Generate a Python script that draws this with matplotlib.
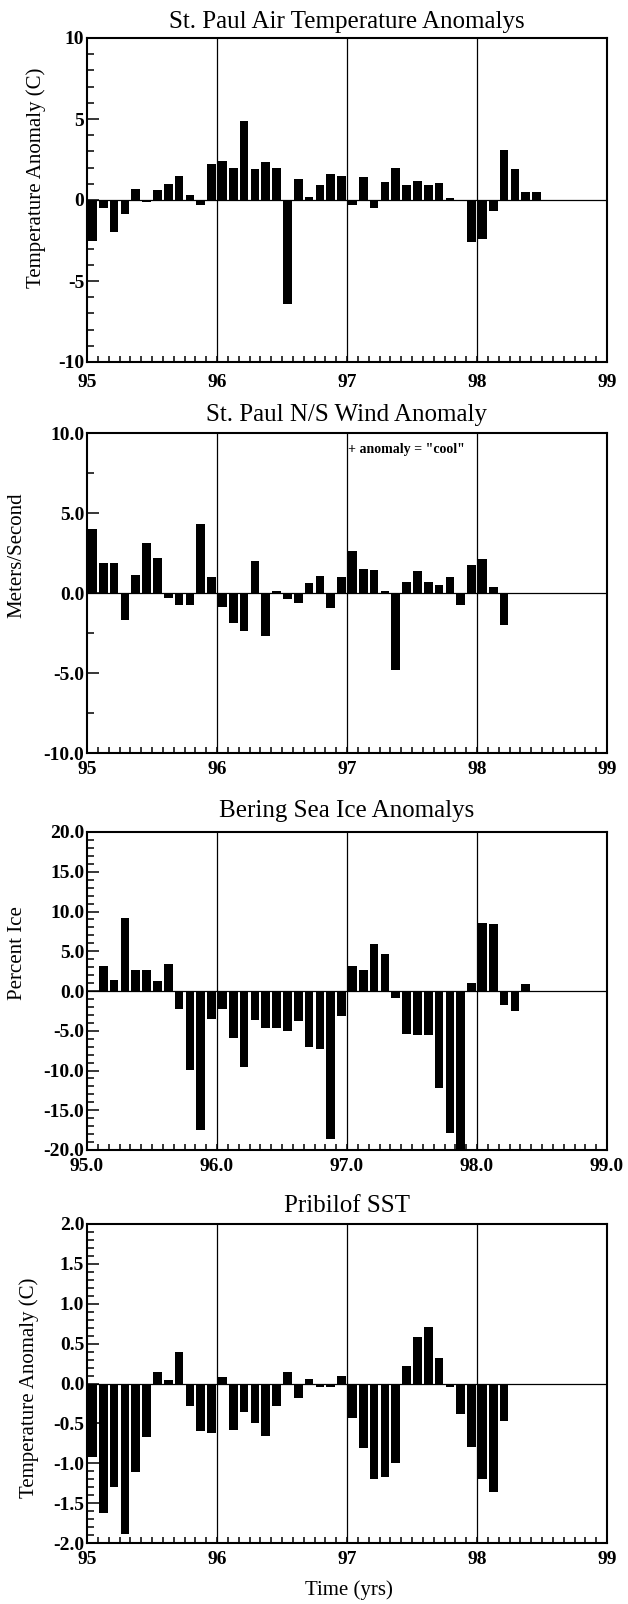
import numpy as np
import matplotlib
matplotlib.use("Agg")
import matplotlib.pyplot as plt
from matplotlib.ticker import MultipleLocator, FormatStrFormatter

plt.rcParams['font.family'] = ['Liberation Serif', 'DejaVu Serif']
plt.rcParams['font.weight'] = 'bold'

# ---------------- data (monthly, starting Jan 1995) ----------------
air_temp = [-2.5, -0.5, -2.0, -0.85, 0.7, -0.1, 0.6, 1.0, 1.5, 0.3, -0.3, 2.2,
            2.4, 2.0, 4.85, 1.9, 2.35, 2.0, -6.4, 1.3, 0.2, 0.9, 1.6, 1.5,
            -0.3, 1.4, -0.5, 1.1, 1.95, 0.9, 1.2, 0.9, 1.05, 0.1, 0.0, -2.6,
            -2.4, -0.7, 3.1, 1.9, 0.5, 0.5]

ns_wind = [4.0, 1.9, 1.9, -1.7, 1.1, 3.1, 2.2, -0.3, -0.75, -0.75, 4.3, 1.0,
           -0.9, -1.9, -2.4, 2.0, -2.7, 0.15, -0.4, -0.6, 0.6, 1.05, -0.95, 1.0,
           2.6, 1.5, 1.45, 0.1, -4.8, 0.7, 1.35, 0.7, 0.5, 1.0, -0.75, 1.75,
           2.1, 0.4, -2.0]

sea_ice = [0.0, 3.2, 1.4, 9.2, 2.7, 2.6, 1.2, 3.4, -2.3, -9.9, -17.5, -3.5,
           -2.3, -5.9, -9.6, -3.6, -4.6, -4.7, -5.0, -3.8, -7.0, -7.3, -18.6, -3.2,
           3.2, 2.7, 5.9, 4.7, -0.9, -5.35, -5.5, -5.5, -12.2, -17.8, -20.5, 1.0,
           8.5, 8.4, -1.7, -2.5, 0.9]

sst = [-0.92, -1.63, -1.30, -1.89, -1.11, -0.67, 0.14, 0.04, 0.39, -0.28, -0.60, -0.62,
       0.08, -0.58, -0.36, -0.50, -0.66, -0.28, 0.14, -0.18, 0.06, -0.05, -0.05, 0.10,
       -0.43, -0.81, -1.20, -1.17, -1.00, 0.22, 0.58, 0.71, 0.32, -0.05, -0.38, -0.80,
       -1.20, -1.36, -0.47]

titles = ["St. Paul Air Temperature Anomalys", "St. Paul N/S Wind Anomaly",
          "Bering Sea Ice Anomalys", "Pribilof SST"]
ylabels = ["Temperature Anomaly (C)", "Meters/Second", "Percent Ice",
           "Temperature Anomaly (C)"]
series = [air_temp, ns_wind, sea_ice, sst]
year_start, year_end = 95, 99
grid_years = [96, 97, 98]

# ---------------- layout (pixels) ----------------
W, H = 628, 1604
ax_left, ax_right = 87, 607
panel_tops = [38, 433, 832, 1224]
panel_bottoms = [362, 753, 1150, 1543]
title_base = [28, 421, 817, 1212]
ylab_pos = [(36, 178), (17, 555), (18, 953), (29, 1388)]
ylims = [(-10, 10), (-10, 10), (-20, 20), (-2, 2)]
ymajor = [5, 5, 5, 0.5]
yminor = [1, 2.5, 1, 0.1]
yfmt = ["%d", "%.1f", "%.1f", "%.1f"]
xfmt = ["%d", "%d", "%.1f", "%d"]
xpad = [8.5, 5.5, 6.0, 5.5]

fig = plt.figure(figsize=(W / 100, H / 100), dpi=100)
fig.patch.set_facecolor('white')

for k in range(4):
    top, bot = panel_tops[k], panel_bottoms[k]
    ax = fig.add_axes([ax_left / W, 1 - bot / H, (ax_right - ax_left) / W, (bot - top) / H])
    vals = np.array(series[k], dtype=float)
    x = year_start + (np.arange(len(vals)) + 0.5) / 12.0
    ax.bar(x, vals, width=0.8 / 12.0, color='black', linewidth=0, zorder=3)
    ax.axhline(0, color='black', lw=0.9, zorder=2)
    for yr in grid_years:
        ax.axvline(yr, color='black', lw=0.9, zorder=2)
    ax.set_xlim(year_start, year_end)
    ax.set_ylim(*ylims[k])
    ax.xaxis.set_major_locator(MultipleLocator(1))
    ax.xaxis.set_minor_locator(MultipleLocator(1 / 12.0))
    ax.yaxis.set_major_locator(MultipleLocator(ymajor[k]))
    ax.yaxis.set_minor_locator(MultipleLocator(yminor[k]))
    ax.xaxis.set_major_formatter(FormatStrFormatter(xfmt[k]))
    ax.yaxis.set_major_formatter(FormatStrFormatter(yfmt[k]))
    ax.tick_params(which='both', direction='in', top=False, right=False, colors='black')
    ax.tick_params(axis='y', which='major', length=8.5, width=1.1, pad=2, labelsize=14)
    ax.tick_params(axis='y', which='minor', length=5, width=1.1)
    ax.tick_params(axis='x', which='both', length=4.5, width=1.1, pad=xpad[k], labelsize=14)
    for s in ax.spines.values():
        s.set_linewidth(1.5)
        s.set_color('black')
    fig.text((ax_left + ax_right) / 2 / W, 1 - title_base[k] / H, titles[k],
             ha='center', va='baseline', fontsize=18, fontweight='normal')
    fig.text(ylab_pos[k][0] / W, 1 - ylab_pos[k][1] / H, ylabels[k], rotation=90,
             ha='center', va='center', fontsize=15, fontweight='normal')

fig.text(348 / W, 1 - 450 / H, '+ anomaly = "cool"', ha='left', va='center',
         fontsize=10, fontweight='bold')
fig.text(349 / W, 1 - 1590 / H, 'Time (yrs)', ha='center', va='center',
         fontsize=15, fontweight='normal')

fig.savefig('out.png', dpi=100, facecolor='white')
